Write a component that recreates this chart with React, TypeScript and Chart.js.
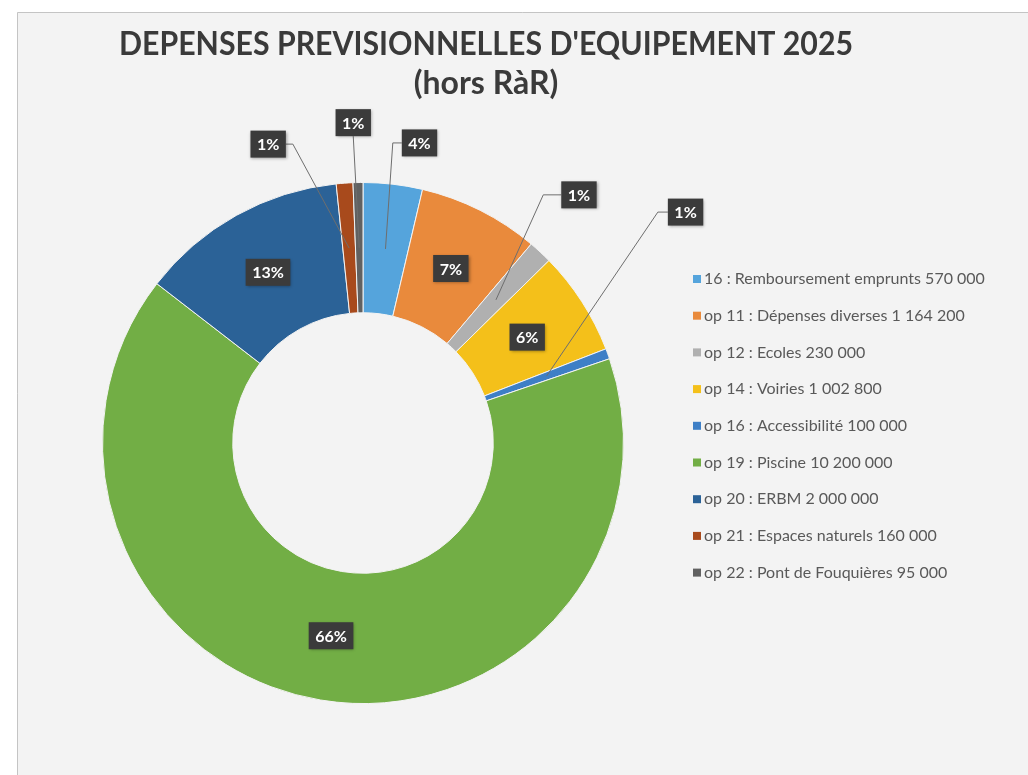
import React, { useEffect, useRef } from "react";
import { Chart, registerables } from "chart.js";

Chart.register(...registerables);

const titleLines = ["DEPENSES PREVISIONNELLES D'EQUIPEMENT 2025", "(hors RàR)"];

const categories = [
  "16 : Remboursement emprunts 570 000",
  "op 11 : Dépenses diverses 1 164 200",
  "op 12 : Ecoles 230 000",
  "op 14 : Voiries 1 002 800",
  "op 16 : Accessibilité 100 000",
  "op 19 : Piscine 10 200 000",
  "op 20 : ERBM 2 000 000",
  "op 21 : Espaces naturels 160 000",
  "op 22 : Pont de Fouquières 95 000",
];

const amounts = [570000, 1164200, 230000, 1002800, 100000, 10200000, 2000000, 160000, 95000];

const percentLabels = ["4%", "7%", "1%", "6%", "1%", "66%", "13%", "1%", "1%"];

const sliceColors = [
  "#55a4dc",
  "#e98a3c",
  "#b0b0b0",
  "#f4c01a",
  "#3e7fc6",
  "#72ae45",
  "#2b6297",
  "#a84a1c",
  "#616161",
];

type Placement =
  | { mode: "in" }
  | { mode: "out"; dx: number; dy: number; elbow: "left" | "right" | "bottom"; len: number };

const labelPlacements: Placement[] = [
  { mode: "out", dx: 34, dy: -106, elbow: "left", len: 9 },
  { mode: "in" },
  { mode: "out", dx: 83, dy: -105, elbow: "left", len: 18 },
  { mode: "in" },
  { mode: "out", dx: 139, dy: -164, elbow: "left", len: 10 },
  { mode: "in" },
  { mode: "in" },
  { mode: "out", dx: -81, dy: -104, elbow: "right", len: 7 },
  { mode: "out", dx: -6, dy: -125, elbow: "bottom", len: 0 },
];

const FONT = "Lato, 'Open Sans', sans-serif";

const backgroundPlugin = {
  id: "bgPlugin",
  beforeDraw(chart: any) {
    const ctx = chart.ctx as CanvasRenderingContext2D;
    ctx.save();
    ctx.fillStyle = "#ffffff";
    ctx.fillRect(0, 0, chart.width, chart.height);
    ctx.fillStyle = "#f3f3f3";
    ctx.fillRect(17, 12, chart.width - 17, chart.height - 12);
    ctx.strokeStyle = "#c4c4c4";
    ctx.lineWidth = 1;
    ctx.beginPath();
    ctx.moveTo(17.5, chart.height);
    ctx.lineTo(17.5, 12.5);
    ctx.lineTo(chart.width, 12.5);
    ctx.stroke();
    ctx.restore();
  },
};

const titlePlugin = {
  id: "titlePlugin",
  afterDraw(chart: any) {
    const ctx = chart.ctx as CanvasRenderingContext2D;
    ctx.save();
    ctx.fillStyle = "#3a3a3a";
    ctx.textAlign = "center";
    ctx.textBaseline = "middle";
    ctx.font = `bold 32px ${FONT}`;
    ctx.fillText(titleLines[0], 486, 45, 734);
    ctx.font = `bold 32px ${FONT}`;
    ctx.fillText(titleLines[1], 486, 84);
    ctx.restore();
  },
};

const legendPlugin = {
  id: "legendPlugin",
  afterDraw(chart: any) {
    const ctx = chart.ctx as CanvasRenderingContext2D;
    const labels: string[] = chart.data.labels;
    const colors: string[] = chart.data.datasets[0].backgroundColor;
    ctx.save();
    ctx.font = `16px ${FONT}`;
    ctx.textBaseline = "middle";
    ctx.textAlign = "left";
    labels.forEach((lab, i) => {
      const y = 279 + i * 36.7;
      ctx.fillStyle = colors[i];
      ctx.fillRect(693, y - 4, 8, 8);
      ctx.fillStyle = "#595959";
      ctx.fillText(lab, 704, y, 288);
    });
    ctx.restore();
  },
};

function drawBox(ctx: CanvasRenderingContext2D, text: string, cx: number, cy: number) {
  ctx.font = `bold 16px ${FONT}`;
  const w = ctx.measureText(text).width + 13;
  const h = 27;
  ctx.save();
  ctx.shadowColor = "rgba(0,0,0,0.35)";
  ctx.shadowBlur = 3;
  ctx.shadowOffsetX = 1;
  ctx.shadowOffsetY = 1;
  ctx.fillStyle = "#3b3b3b";
  ctx.fillRect(cx - w / 2, cy - h / 2, w, h);
  ctx.restore();
  ctx.fillStyle = "#ffffff";
  ctx.textAlign = "center";
  ctx.textBaseline = "middle";
  ctx.fillText(text, cx, cy + 1);
  return { w, h };
}

const dataLabelPlugin = {
  id: "dataLabelPlugin",
  afterDatasetsDraw(chart: any) {
    const ctx = chart.ctx as CanvasRenderingContext2D;
    const meta = chart.getDatasetMeta(0);
    ctx.save();
    meta.data.forEach((arc: any, i: number) => {
      const p = arc.tooltipPosition(false);
      const place = labelPlacements[i];
      const text = percentLabels[i];
      if (place.mode === "in") {
        drawBox(ctx, text, p.x, p.y);
        return;
      }
      const cx = p.x + place.dx;
      const cy = p.y + place.dy;
      ctx.font = `bold 16px ${FONT}`;
      const w = ctx.measureText(text).width + 13;
      const h = 27;
      ctx.strokeStyle = "#6e6e6e";
      ctx.lineWidth = 1;
      ctx.beginPath();
      ctx.moveTo(p.x, p.y);
      if (place.elbow === "left") {
        const xl = cx - w / 2;
        ctx.lineTo(xl - place.len, cy);
        ctx.lineTo(xl, cy);
      } else if (place.elbow === "right") {
        const xr = cx + w / 2;
        ctx.lineTo(xr + place.len, cy);
        ctx.lineTo(xr, cy);
      } else {
        ctx.lineTo(cx, cy + h / 2);
      }
      ctx.stroke();
      drawBox(ctx, text, cx, cy);
    });
    ctx.restore();
  },
};

export default function App() {
  const ref = useRef<HTMLCanvasElement | null>(null);

  useEffect(() => {
    document.body.style.margin = "0";
    if (!ref.current) return;
    const chart = new Chart(ref.current, {
      type: "doughnut",
      data: {
        labels: categories,
        datasets: [
          {
            data: amounts,
            backgroundColor: sliceColors,
            borderColor: "#f3f3f3",
            borderWidth: 1,
          },
        ],
      },
      options: {
        responsive: false,
        animation: false,
        cutout: "50%",
        rotation: 0,
        layout: { padding: { left: 102, top: 182, right: 404, bottom: 71 } },
        plugins: {
          legend: { display: false },
          title: { display: false },
          tooltip: { enabled: false },
        },
      },
      plugins: [backgroundPlugin, dataLabelPlugin, titlePlugin, legendPlugin],
    });
    return () => chart.destroy();
  }, []);

  return (
    <div style={{ position: "absolute", left: 0, top: 0, width: 1028, height: 775 }}>
      <canvas ref={ref} width={1028} height={775} style={{ width: 1028, height: 775, display: "block" }} />
    </div>
  );
}
